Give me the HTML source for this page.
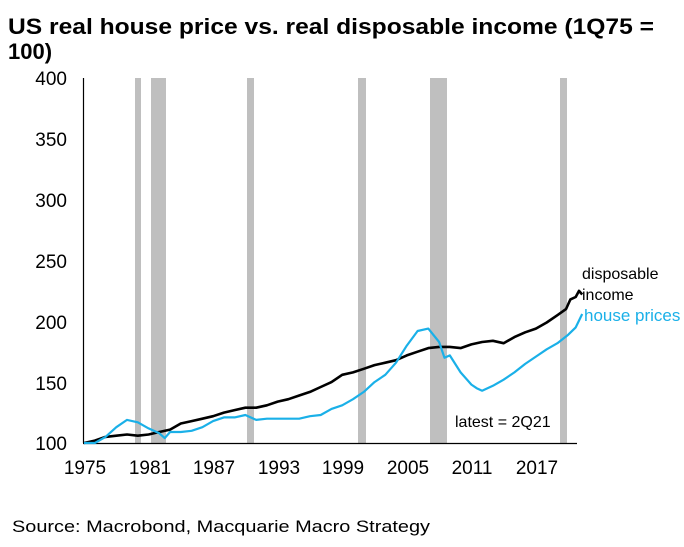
<!DOCTYPE html>
<html><head><meta charset="utf-8"><style>
body{margin:0;background:#fff;width:684px;height:542px;overflow:hidden;font-family:"Liberation Sans",Arial,sans-serif}
</style></head><body>
<svg id="s" width="684" height="542" xmlns="http://www.w3.org/2000/svg" font-family="Liberation Sans, Arial, sans-serif">
<text x="8" y="34" font-size="22" font-weight="bold" textLength="646" lengthAdjust="spacingAndGlyphs">US real house price vs. real disposable income (1Q75 =</text>
<text x="8" y="59" font-size="22" font-weight="bold">100)</text>
<g fill="#bfbfbf">
<rect x="135" y="78" width="6" height="365"/>
<rect x="151" y="78" width="15" height="365"/>
<rect x="247" y="78" width="7" height="365"/>
<rect x="358" y="78" width="8" height="365"/>
<rect x="430" y="78" width="17" height="365"/>
<rect x="560" y="78" width="7" height="365"/>
</g>
<line x1="83.5" y1="78" x2="83.5" y2="443" stroke="#000" stroke-width="1.2"/>
<line x1="83" y1="443.5" x2="577" y2="443.5" stroke="#000" stroke-width="1.2"/>
<g font-size="19" text-anchor="end">
<text x="67" y="85">400</text><text x="67" y="146">350</text><text x="67" y="207">300</text>
<text x="67" y="268">250</text><text x="67" y="329">200</text><text x="67" y="390">150</text><text x="67" y="450">100</text>
</g>
<g font-size="19" text-anchor="middle">
<text x="85" y="474">1975</text><text x="150" y="474">1981</text><text x="214" y="474">1987</text>
<text x="279" y="474">1993</text><text x="343" y="474">1999</text><text x="408" y="474">2005</text>
<text x="472" y="474">2011</text><text x="537" y="474">2017</text>
</g>
<polyline id="b" fill="none" stroke="#000" stroke-width="2.6" stroke-linejoin="round"/>
<polyline id="h" fill="none" stroke="#1ab0e8" stroke-width="2.2" stroke-linejoin="round"/>
<text x="582" y="279" font-size="16">disposable</text>
<text x="582" y="300" font-size="16">income</text>
<text x="584" y="321" font-size="17" fill="#1ab0e8">house prices</text>
<text x="455" y="427" font-size="16">latest = 2Q21</text>
<text x="12" y="532" font-size="17" textLength="418" lengthAdjust="spacingAndGlyphs">Source: Macrobond, Macquarie Macro Strategy</text>
</svg>
<script>
function pts(a){return a.map(p=>(84+(p[0]-1975)*10.76).toFixed(1)+","+(443-(p[1]-100)*1.217).toFixed(1)).join(" ");}
var B=[[1975,100],[1976,102],[1977,105],[1978,106],[1979,107],[1980,106],[1981,107],[1982,109],[1983,111],[1984,116],[1985,118],[1986,120],[1987,122],[1988,125],[1989,127],[1990,129],[1991,129],[1992,131],[1993,134],[1994,136],[1995,139],[1996,142],[1997,146],[1998,150],[1999,156],[2000,158],[2001,161],[2002,164],[2003,166],[2004,168],[2005,172],[2006,175],[2007,178],[2008,179],[2009,179],[2010,178],[2011,181],[2012,183],[2013,184],[2014,182],[2015,187],[2016,191],[2017,194],[2018,199],[2019,205],[2019.8,210],[2020.2,218],[2020.7,220],[2021.0,225],[2021.3,222]];
var H=[[1975,100],[1976,100],[1977,105],[1978,113],[1979,119],[1980,117],[1981,112],[1982,108],[1982.5,104],[1983,109],[1984,109],[1985,110],[1986,113],[1987,118],[1988,121],[1989,121],[1990,123],[1991,119],[1992,120],[1993,120],[1994,120],[1995,120],[1996,122],[1997,123],[1998,128],[1999,131],[2000,136],[2001,142],[2002,150],[2003,156],[2004,166],[2005,180],[2006,192],[2007,194],[2008,183],[2008.5,170],[2009,172],[2010,158],[2011,148],[2011.5,145],[2012,143],[2013,147],[2014,152],[2015,158],[2016,165],[2017,171],[2018,177],[2019,182],[2020,189],[2020.7,195],[2021.3,206]];
document.getElementById('b').setAttribute('points',pts(B));
document.getElementById('h').setAttribute('points',pts(H));
</script>
</body></html>
